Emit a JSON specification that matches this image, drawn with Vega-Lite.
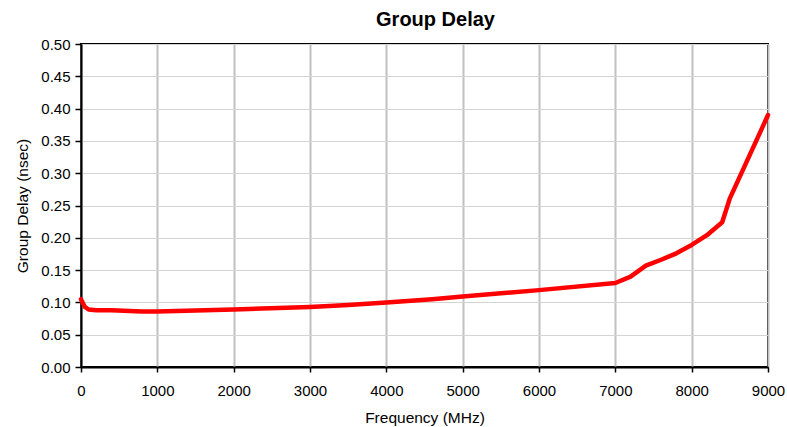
{
  "$schema": "https://vega.github.io/schema/vega-lite/v6.json",
  "autosize": "none",
  "width": 687,
  "height": 323,
  "padding": {"left": 81, "top": 44, "right": 19, "bottom": 60},
  "background": "white",
  "title": {"text": "Group Delay", "font": "Liberation Sans", "fontSize": 20, "fontWeight": "bold", "color": "black", "offset": 7, "dx": 11},
  "config": {
    "view": {"stroke": "black", "strokeWidth": 2},
    "axis": {"labelFont": "Liberation Sans", "titleFont": "Liberation Sans", "labelFontSize": 15, "titleFontSize": 15.5, "titleFontWeight": "normal", "labelColor": "black", "titleColor": "black", "domainColor": "black", "tickColor": "black", "domainWidth": 2, "tickWidth": 1.5}
  },
  "data": {"values": [
    {"f": 0, "d": 0.105},
    {"f": 50, "d": 0.093},
    {"f": 100, "d": 0.089},
    {"f": 200, "d": 0.088},
    {"f": 400, "d": 0.088},
    {"f": 800, "d": 0.086},
    {"f": 1000, "d": 0.086},
    {"f": 2000, "d": 0.089},
    {"f": 3000, "d": 0.093},
    {"f": 3500, "d": 0.096},
    {"f": 4000, "d": 0.100},
    {"f": 4600, "d": 0.105},
    {"f": 5000, "d": 0.109},
    {"f": 6000, "d": 0.119},
    {"f": 7000, "d": 0.130},
    {"f": 7200, "d": 0.140},
    {"f": 7400, "d": 0.157},
    {"f": 7600, "d": 0.166},
    {"f": 7800, "d": 0.176},
    {"f": 8000, "d": 0.189},
    {"f": 8200, "d": 0.204},
    {"f": 8400, "d": 0.224},
    {"f": 8500, "d": 0.261},
    {"f": 9000, "d": 0.390}
  ]},
  "mark": {"type": "line", "color": "#FF0000", "strokeWidth": 4.5, "strokeJoin": "round", "strokeCap": "round"},
  "encoding": {
    "x": {"field": "f", "type": "quantitative", "title": "Frequency (MHz)",
      "scale": {"domain": [0, 9000], "nice": false},
      "axis": {"values": [0,1000,2000,3000,4000,5000,6000,7000,8000,9000], "format": "d", "grid": true, "gridColor": "#C0C0C0", "gridWidth": 2, "tickSize": 5, "labelPadding": 11, "titlePadding": 12, "labelFlush": false}},
    "y": {"field": "d", "type": "quantitative", "title": "Group Delay (nsec)",
      "scale": {"domain": [0, 0.5], "nice": false},
      "axis": {"values": [0,0.05,0.1,0.15,0.2,0.25,0.3,0.35,0.4,0.45,0.5], "format": ".2f", "grid": true, "gridColor": "#D4D4D4", "gridWidth": 1, "tickSize": 6, "labelPadding": 5, "titlePadding": 10, "labelFlush": false}}
  }
}
